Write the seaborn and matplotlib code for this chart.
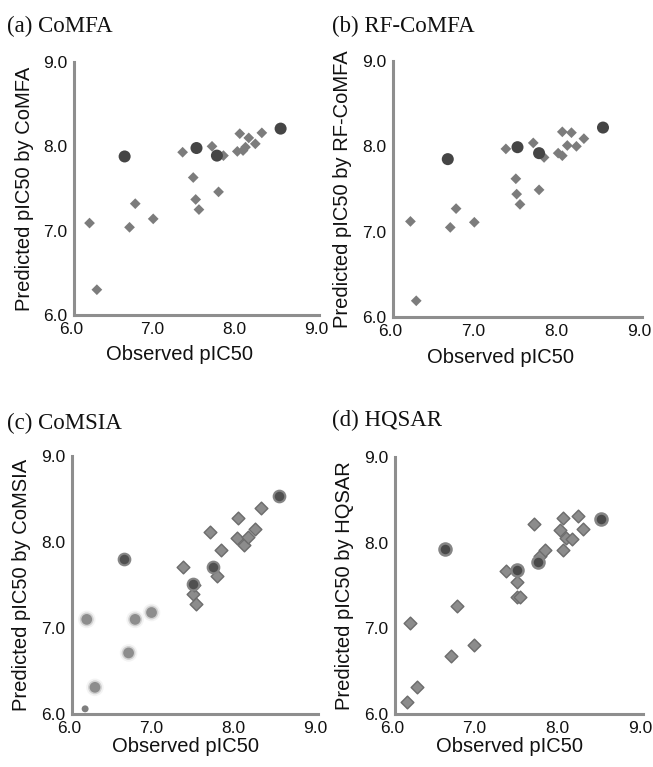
import numpy as np
import pandas as pd
import matplotlib
matplotlib.use("Agg")
import matplotlib.pyplot as plt
import matplotlib.transforms as mtransforms
import seaborn as sns

# ---------------- data ----------------
titles = ["(a) CoMFA", "(b) RF-CoMFA", "(c) CoMSIA", "(d) HQSAR"]
ylabels = ["Predicted pIC50 by CoMFA", "Predicted pIC50 by RF-CoMFA",
           "Predicted pIC50 by CoMSIA", "Predicted pIC50 by HQSAR"]
xlabel = "Observed pIC50"
ticks = [6.0, 7.0, 8.0, 9.0]
tick_labels = ["6.0", "7.0", "8.0", "9.0"]

# (a) CoMFA
a_train_obs = [6.19, 6.28, 6.68, 6.75, 6.97, 7.33, 7.46, 7.49, 7.53, 7.69, 7.77, 7.83,
               8.00, 8.03, 8.07, 8.10, 8.14, 8.22, 8.30]
a_train_pred = [7.09, 6.30, 7.04, 7.32, 7.14, 7.93, 7.63, 7.37, 7.25, 8.00, 7.46, 7.89,
                7.94, 8.15, 7.95, 7.99, 8.10, 8.03, 8.16]
a_test_obs = [6.62, 7.50, 7.75, 8.53]
a_test_pred = [7.88, 7.98, 7.89, 8.21]

# (b) RF-CoMFA
b_train_obs = [6.21, 6.28, 6.69, 6.76, 6.98, 7.36, 7.48, 7.49, 7.53, 7.69, 7.76, 7.82,
               7.99, 8.04, 8.04, 8.10, 8.15, 8.21, 8.30]
b_train_pred = [7.12, 6.19, 7.05, 7.27, 7.11, 7.97, 7.62, 7.44, 7.32, 8.04, 7.49, 7.87,
                7.92, 7.89, 8.17, 8.01, 8.16, 8.00, 8.09]
b_test_obs = [6.66, 7.50, 7.76, 8.53]
b_test_pred = [7.85, 7.99, 7.92, 8.22]

# (c) CoMSIA
c_train_obs = [7.35, 7.47, 7.49, 7.51, 7.68, 7.77, 7.82, 8.01, 8.03, 8.10, 8.15, 8.23, 8.30]
c_train_pred = [7.71, 7.40, 7.50, 7.28, 8.12, 7.61, 7.91, 8.05, 8.28, 7.97, 8.06, 8.15, 8.39]
c_faint_obs = [6.18, 6.28, 6.69, 6.77, 6.97]
c_faint_pred = [7.10, 6.31, 6.71, 7.10, 7.18]
c_small_obs = [6.16]
c_small_pred = [6.06]
c_test_obs = [6.64, 7.47, 7.72, 8.53]
c_test_pred = [7.80, 7.51, 7.71, 8.53]

# (d) HQSAR
d_train_obs = [6.18, 6.15, 6.27, 6.68, 6.75, 6.95, 7.34, 7.48, 7.47, 7.51, 7.68, 7.75,
               7.81, 7.99, 8.03, 8.03, 8.07, 8.14, 8.21, 8.28]
d_train_pred = [7.06, 6.14, 6.32, 6.68, 7.26, 6.80, 7.67, 7.54, 7.36, 7.36, 8.22, 7.84,
                7.91, 8.15, 8.29, 7.91, 8.05, 8.04, 8.31, 8.16]
d_test_obs = [6.61, 7.48, 7.73, 8.49]
d_test_pred = [7.93, 7.68, 7.77, 8.28]

# ---------------- style ----------------
sns.set_style("white")
plt.rcParams["font.family"] = ["Liberation Sans", "DejaVu Sans"]

W, H = 653, 767
fig = plt.figure(figsize=(W / 100, H / 100), dpi=100)

# axes rects in pixels: left, top, right, bottom
rects_px = [(74, 62, 319, 315), (393, 61, 642, 317),
            (72, 456, 318, 714), (395, 457, 643, 714)]
title_px = [(7, 16), (332, 16), (7, 413), (332, 410)]
ylab_x = [-0.165, -0.165, -0.165, -0.165]
xlab_pos = [(0.43, -0.12), (0.43, -0.12), (0.46, -0.09), (0.46, -0.09)]

spine_col = "#8e8e8e"
dia_col = "#7c7c7c"
dark_col = "#454545"


def make_ax(i):
    l, t, r, b = rects_px[i]
    ax = fig.add_axes([l / W, 1 - b / H, (r - l) / W, (b - t) / H])
    return ax


axes = [make_ax(i) for i in range(4)]

# (a)
sns.scatterplot(x=a_train_obs, y=a_train_pred, marker="D", s=30, color=dia_col,
                edgecolor="none", ax=axes[0], zorder=3)
sns.scatterplot(x=a_test_obs, y=a_test_pred, marker="o", s=75, color=dark_col,
                edgecolor="none", ax=axes[0], zorder=4)
# (b)
sns.scatterplot(x=b_train_obs, y=b_train_pred, marker="D", s=30, color=dia_col,
                edgecolor="none", ax=axes[1], zorder=3)
sns.scatterplot(x=b_test_obs, y=b_test_pred, marker="o", s=75, color=dark_col,
                edgecolor="none", ax=axes[1], zorder=4)
# (c) faint blurred points: stacked soft layers
for sz, col, al in [(160, "#e8e8e8", 0.5), (100, "#bdbdbd", 0.6), (60, "#868686", 0.9)]:
    sns.scatterplot(x=c_faint_obs, y=c_faint_pred, marker="o", s=sz, color=col,
                    edgecolor="none", alpha=al, ax=axes[2], zorder=2)
sns.scatterplot(x=c_small_obs, y=c_small_pred, marker="o", s=25, color="#7e7e7e",
                edgecolor="none", ax=axes[2], zorder=3)
sns.scatterplot(x=c_train_obs, y=c_train_pred, marker="D", s=42, color="#8c8c8c",
                edgecolor="#6c6c6c", linewidth=1.0, ax=axes[2], zorder=3)
sns.scatterplot(x=c_test_obs, y=c_test_pred, marker="o", s=70, color="#505050",
                edgecolor="#858585", linewidth=1.5, ax=axes[2], zorder=4)
# (d)
sns.scatterplot(x=d_train_obs, y=d_train_pred, marker="D", s=42, color="#8c8c8c",
                edgecolor="#6c6c6c", linewidth=1.0, ax=axes[3], zorder=3)
sns.scatterplot(x=d_test_obs, y=d_test_pred, marker="o", s=75, color="#4a4a4a",
                edgecolor="#858585", linewidth=1.8, ax=axes[3], zorder=4)

shift = mtransforms.ScaledTranslation(-3 / 100, 0, fig.dpi_scale_trans)

for i, ax in enumerate(axes):
    ax.set_xlim(6.0, 9.0)
    ax.set_ylim(6.0, 9.0)
    ax.set_xticks(ticks)
    ax.set_yticks(ticks)
    ax.set_xticklabels(tick_labels)
    ax.set_yticklabels(tick_labels)
    for s in ["top", "right"]:
        ax.spines[s].set_visible(False)
    for s in ["left", "bottom"]:
        ax.spines[s].set_color(spine_col)
        ax.spines[s].set_linewidth(2.2)
    ax.tick_params(axis="both", length=3, width=1.2, color=spine_col,
                   labelsize=12.5, pad=2, labelcolor="#111111", direction="out")
    for lab in ax.get_xticklabels():
        lab.set_transform(lab.get_transform() + shift)
    ax.set_xlabel(xlabel, fontsize=14.5, color="#111111")
    ax.set_ylabel(ylabels[i], fontsize=14.5, color="#111111")
    ax.xaxis.set_label_coords(*xlab_pos[i])
    ax.yaxis.set_label_coords(ylab_x[i], 0.5)
    ax.set_facecolor("white")
    tx, ty = title_px[i]
    fig.text(tx / W, 1 - ty / H, titles[i], family=["Liberation Serif", "DejaVu Serif"],
             fontsize=16.5, va="top", ha="left", color="#111111")

fig.savefig("out.png", dpi=100, facecolor="white")
